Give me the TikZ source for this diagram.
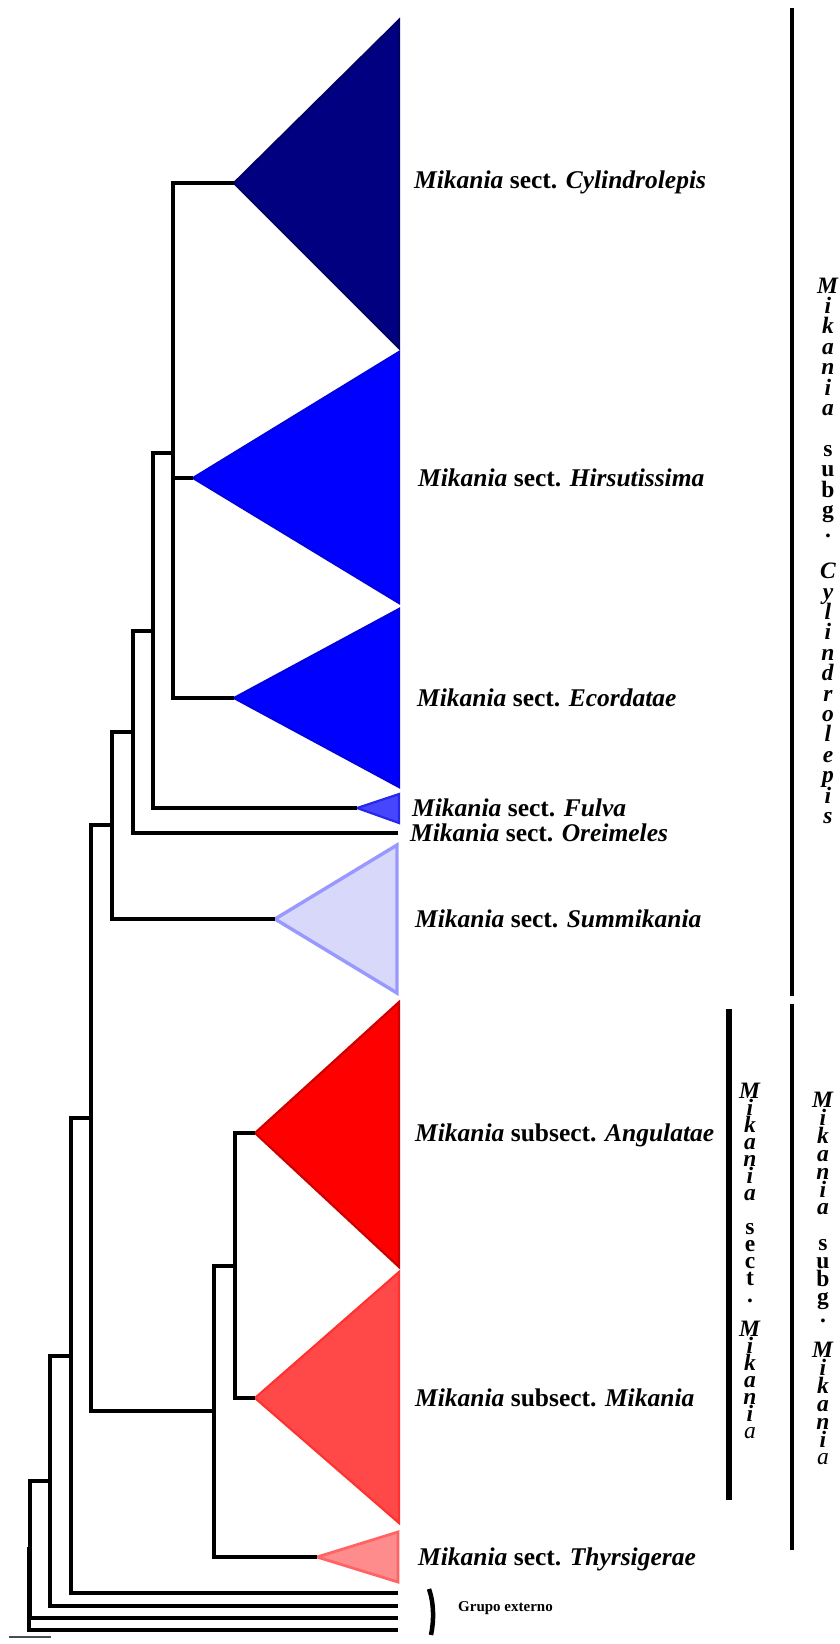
\documentclass[tikz,border=0pt]{standalone}
\usepackage{fontspec}
\setmainfont{Liberation Serif}
\definecolor{cylF}{RGB}{0,0,128}
\definecolor{cylD}{RGB}{0,0,100}
\definecolor{bluF}{RGB}{0,0,255}
\definecolor{bluD}{RGB}{0,0,225}
\definecolor{fulF}{RGB}{70,70,255}
\definecolor{fulD}{RGB}{40,40,235}
\definecolor{sumF}{RGB}{216,216,250}
\definecolor{sumD}{RGB}{152,152,255}
\definecolor{angF}{RGB}{255,0,0}
\definecolor{angD}{RGB}{205,0,0}
\definecolor{mikF}{RGB}{255,72,72}
\definecolor{mikD}{RGB}{255,50,50}
\definecolor{thyF}{RGB}{255,140,140}
\definecolor{thyD}{RGB}{255,100,100}
\begin{document}
\begin{tikzpicture}[x=1pt,y=-1pt,
  br/.style={line width=3.6pt, line join=miter, black},
  tri/.style={line width=2.2pt, line join=miter},
  lab/.style={anchor=base west, inner sep=0pt, font=\fontsize{25.5}{28}\selectfont\bfseries},
  vl/.style={anchor=base, inner sep=0pt, font=\fontsize{23.5}{26}\selectfont\bfseries},
  bar/.style={line width=3.5pt, black}]
\useasboundingbox (0,0) rectangle (840,1644);
% tips
\coordinate (tipCyl) at (234,183);
\coordinate (tipHir) at (193,478);
\coordinate (tipEco) at (234,698);
\coordinate (tipFul) at (357,808);
\coordinate (tipOre) at (398,833);
\coordinate (tipSum) at (275,919);
\coordinate (tipAng) at (255,1133);
\coordinate (tipMik) at (255,1398);
\coordinate (tipThy) at (317,1557);
\coordinate (og1) at (398,1593);
\coordinate (og2) at (398,1606);
\coordinate (og3) at (398,1618);
\coordinate (og4) at (398,1630);
% internal nodes
\coordinate (n1) at (173,453);
\coordinate (n2) at (153,631);
\coordinate (n3) at (133,732);
\coordinate (n4) at (112,825);
\coordinate (n5) at (91,1118);
\coordinate (n6) at (214,1411);
\coordinate (n7) at (235,1266);
\coordinate (n8) at (71,1356);
\coordinate (n9) at (50,1481);
\coordinate (n10) at (30,1549);
\coordinate (root) at (29,1590);
% triangles
\filldraw[tri, fill=cylF, draw=cylD] (tipCyl) -- (399,20) -- (399,348) -- cycle;
\filldraw[tri, fill=bluF, draw=bluD] (tipHir) -- (399,352) -- (399,603) -- cycle;
\filldraw[tri, fill=bluF, draw=bluD] (tipEco) -- (399,609) -- (399,787) -- cycle;
\filldraw[tri, fill=fulF, draw=fulD] (tipFul) -- (399,794) -- (399,823) -- cycle;
\filldraw[tri, line width=3.4pt, fill=sumF, draw=sumD] (tipSum) -- (397,845) -- (397,993) -- cycle;
\filldraw[tri, fill=angF, draw=angD] (tipAng) -- (399,1002) -- (399,1267) -- cycle;
\filldraw[tri, fill=mikF, draw=mikD] (tipMik) -- (399,1272) -- (399,1523) -- cycle;
\filldraw[tri, line width=2.8pt, fill=thyF, draw=thyD] (tipThy) -- (398,1532) -- (398,1582) -- cycle;
% branches
\draw[br] (tipCyl) -| (n1) |- (tipEco);
\draw[br] (n1) |- (tipHir);
\draw[br] (n1) -| (n2) |- (tipFul);
\draw[br] (n2) -| (n3) |- (tipOre);
\draw[br] (n3) -| (n4) |- (tipSum);
\draw[br] (n4) -| (n5) |- (n6);
\draw[br] (tipAng) -| (n7) |- (tipMik);
\draw[br] (n7) -| (n6) |- (tipThy);
\draw[br] (n5) -| (n8) |- (og1);
\draw[br] (n8) -| (n9) |- (og2);
\draw[br] (n9) -| (n10) |- (og3);
\draw[br] (n10) -| (root) |- (og4);
% scale bar
\coordinate (sb1) at (9,1637);
\coordinate (sb2) at (51,1637);
\draw[line width=1.3pt, black!70] (sb1) -- (sb2);
% labels
\node[lab] (lCyl) at (414,188) {\textit{Mikania} sect. \textit{Cylindrolepis}};
\node[lab] (lHir) at (418,486) {\textit{Mikania} sect. \textit{Hirsutissima}};
\node[lab] (lEco) at (417,706) {\textit{Mikania} sect. \textit{Ecordatae}};
\node[lab] (lFul) at (412,816) {\textit{Mikania} sect. \textit{Fulva}};
\node[lab] (lOre) at (410,841) {\textit{Mikania} sect. \textit{Oreimeles}};
\node[lab] (lSum) at (415,927) {\textit{Mikania} sect. \textit{Summikania}};
\node[lab] (lAng) at (415,1141) {\textit{Mikania} subsect. \textit{Angulatae}};
\node[lab] (lMik) at (415,1406) {\textit{Mikania} subsect. \textit{Mikania}};
\node[lab] (lThy) at (418,1565) {\textit{Mikania} sect. \textit{Thyrsigerae}};
% outgroup
\coordinate (gb1) at (429,1589);
\coordinate (gb2) at (431,1635);
\draw[line width=4.5pt] (gb1) .. controls (434,1603) and (434,1621) .. (gb2);
\node[anchor=base west, inner sep=0pt, font=\fontsize{15}{18}\selectfont\bfseries] (lOg) at (458,1611) {Grupo externo};
% right bars
\coordinate (b1t) at (792,8);
\coordinate (b1b) at (792,996);
\coordinate (b2t) at (792,1004);
\coordinate (b2b) at (792,1550);
\coordinate (b3t) at (729,1009);
\coordinate (b3b) at (729,1500);
\draw[bar] (b1t) -- (b1b);
\draw[bar] (b2t) -- (b2b);
\draw[bar, line width=6pt] (b3t) -- (b3b);
% vertical labels
\foreach \ch [count=\n] in {\textit{M},\textit{i},\textit{k},\textit{a},\textit{n},\textit{i},\textit{a},{},s,u,b,g,.,{},\textit{C},\textit{y},\textit{l},\textit{i},\textit{n},\textit{d},\textit{r},\textit{o},\textit{l},\textit{e},\textit{p},\textit{i},\textit{s}}
  \node[vl] (vc\n) at (828,{272.6+20.4*\n}) {\ch};
\foreach \ch [count=\n] in {\textit{M},\textit{i},\textit{k},\textit{a},\textit{n},\textit{i},\textit{a},{},s,e,c,t,.,{},\textit{M},\textit{i},\textit{k},\textit{a},\textit{n},\textit{i},\textmd{\textit{a}}}
  \node[vl] (vs\n) at (750,{1081+17*\n}) {\ch};
\foreach \ch [count=\n] in {\textit{M},\textit{i},\textit{k},\textit{a},\textit{n},\textit{i},\textit{a},{},s,u,b,g,.,{},\textit{M},\textit{i},\textit{k},\textit{a},\textit{n},\textit{i},\textmd{\textit{a}}}
  \node[vl] (vm\n) at (823,{1090+17.85*\n}) {\ch};
\end{tikzpicture}
\end{document}
